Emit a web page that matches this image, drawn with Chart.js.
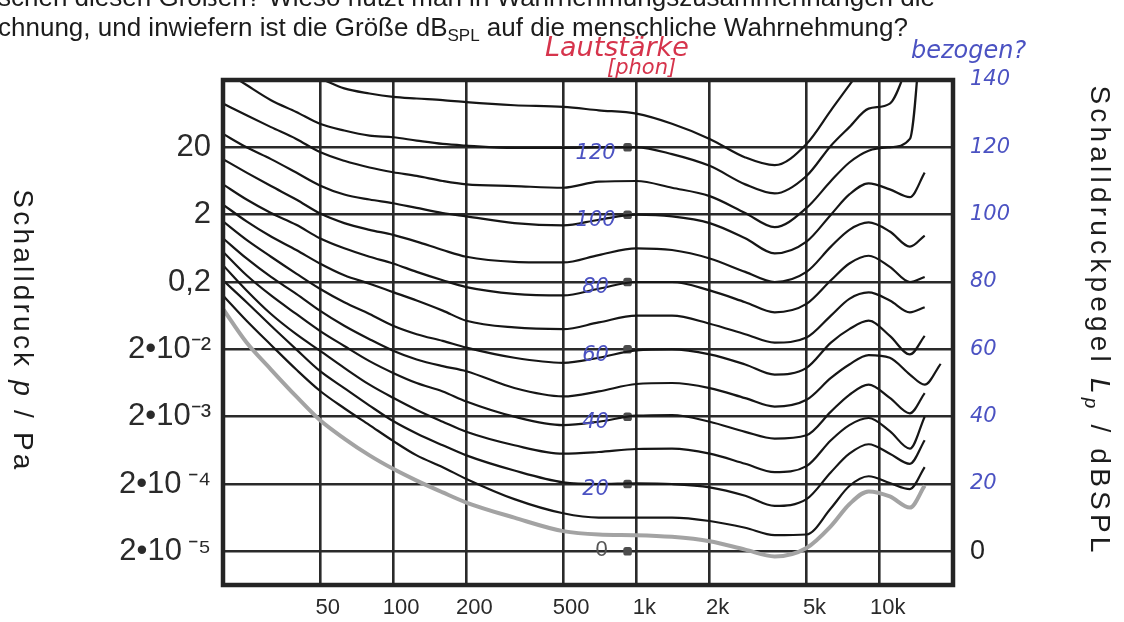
<!DOCTYPE html>
<html>
<head>
<meta charset="utf-8">
<script src="https://cdn.jsdelivr.net/npm/chart.js@4.4.1/dist/chart.umd.min.js"></script>
<style>
  html, body { margin: 0; padding: 0; background: #fff; overflow: hidden; }
  #wrap { width: 1124px; height: 622px; }
</style>
</head>
<body>
<div id="wrap"><canvas id="kurven" width="1124" height="622"></canvas></div>
<script>
// Frequenzen (Hz)
var frequenzen = [20, 25, 31.5, 40, 50, 63, 80, 100, 125, 160, 200, 315, 500, 700, 1000, 1400, 2000, 2800, 3700, 5000, 6300, 7500, 9000, 11000, 13300, 15300, 17800];

// Hoerschwelle und Kurven gleicher Lautstaerke, Pegel in dB SPL
var hoerschwelle = [72, 62, 54, 46, 39, 33.5, 28.5, 24.5, 21, 17.5, 14.5, 10, 6, 5, 4.8, 4.3, 3, 0.5, -1.5, 1, 7.5, 14, 17.8, 16.3, 13, 19.5, null];
var phon10  = [76, 68.5, 61.3, 54, 47.7, 42.5, 37.5, 32.8, 28.5, 25, 21.5, 15.5, 11.3, 10, 10, 10, 9, 7, 4.8, 5, 12.8, 19.4, 22.3, 20.3, 18.5, 25, null];
var phon20  = [80.5, 74, 67, 60, 53.6, 48.5, 43.3, 38.7, 35, 31.5, 28.5, 24, 20.5, 20, 20.2, 20, 19, 16.5, 13.5, 15.5, 23.5, 29, 31.8, 29, 26, 33, null];
var phon30  = [85, 77.5, 70.5, 64.5, 59.6, 54.5, 49.5, 45.6, 42, 38.5, 35.5, 31.5, 29, 29.5, 30.4, 30.5, 29, 26, 23.5, 25.3, 33, 37.5, 39.6, 35.7, 30.5, 40, null];
var phon40  = [89, 82, 76, 70.5, 65.5, 61, 56.5, 53, 50, 47.5, 44.5, 40, 37.5, 38.5, 40.3, 40.5, 38.5, 35.5, 33.5, 34.5, 41.5, 46.5, 49.5, 45.6, 41, 47, null];
var phon50  = [93, 87, 81.5, 76.5, 71.5, 67, 63, 59.6, 57, 55, 53.5, 48.5, 46, 47.5, 49.7, 50, 48.5, 45.5, 43, 45, 51.5, 55.5, 58.3, 57.5, 52.5, 49.5, 55.7];
var phon60  = [98, 92.5, 87.5, 82.5, 78, 74, 70.5, 67, 64.5, 62.5, 60.5, 57.5, 56, 57.5, 59.7, 60, 58.5, 55.5, 52.5, 54.5, 62, 66, 68.5, 64, 58.5, 64, null];
var phon70  = [103, 98, 93.5, 89.5, 85.5, 82, 79.5, 77, 74.5, 71.5, 68.5, 66.5, 66, 68, 70, 70, 67.6, 64.5, 62, 63.5, 70, 75, 76.9, 74.5, 71, 72.5, null];
var phon80  = [109, 104.5, 100.5, 97, 93, 90, 87.5, 85.5, 83, 80.5, 78.5, 76.5, 76, 78, 80, 80, 77.5, 74, 71, 73.5, 80.5, 85.5, 87.8, 84.5, 80, 81.5, null];
var phon90  = [116.5, 112.5, 108.5, 104.5, 100.4, 97.5, 95.5, 94, 92, 89.5, 87.5, 86, 85.8, 88, 90, 89.5, 87, 83, 80, 83, 90.5, 95.5, 97.7, 95, 90.5, 93.8, null];
var phon100 = [124, 120, 116.5, 112.5, 108.7, 106, 104.5, 103.4, 102, 100.5, 99.5, 97.5, 96.8, 98.5, 100, 99.5, 97.5, 93, 88.5, 92, 100, 106, 109.3, 107.5, 105.2, 112.5, null];
var phon110 = [133, 129.5, 126, 122.5, 118.6, 116, 114, 112.6, 111.5, 110, 109, 108.5, 108, 109.8, 110, 108, 105.5, 100.5, 96.3, 102, 110, 115.5, 119, 120, 122.5, 170, null];
var phon120 = [143, 138.5, 134, 130.5, 127, 125, 123.5, 123, 122, 121, 120.5, 119.8, 119.8, 120, 120, 118, 114.5, 109, 106.3, 111.5, 120.5, 126, 131.5, 133, 146, null, null];
var phon130 = [null, null, null, 143, 140.5, 137.5, 136, 135, 134.5, 134, 133.4, 132.5, 132, 131, 130, 127, 122.5, 117, 114.7, 121, 131, 138.5, 146, null, null, null, null];

// Punkte bei 1 kHz (Phon-Markierungen) mit handschriftlicher Beschriftung
var markerFrequenz = 920;
var markerPegel = [0, 20, 40, 60, 80, 100, 120];
var markerText = ['0', '20', '40', '60', '80', '100', '120'];

// Achsenbeschriftungen
var xTicks = [50, 100, 200, 500, 1000, 2000, 5000, 10000];
var xTickText = ['50', '100', '200', '500', '1k', '2k', '5k', '10k'];
var paTicks = [0, 20, 40, 60, 80, 100, 120];
var paText = ['2•10\u2009⁻⁵', '2•10\u2009⁻⁴', '2•10⁻³', '2•10⁻²', '0,2', '2', '20'];
var splTicks = [0, 20, 40, 60, 80, 100, 120, 140];

var frageZeile1 = 'schen diesen Größen? Wieso nutzt man in Wahrnehmungszusammenhängen die';
var frageZeile2a = 'chnung, und inwiefern ist die Größe dB';
var frageZeile2b = ' auf die menschliche Wahrnehmung?';

var SCHRIFT = "'Liberation Sans', Arial, sans-serif";
var HAND = "'DejaVu Sans', sans-serif";

function punkte(werte) {
  return frequenzen.map(function (f, i) { return { x: f, y: werte[i] }; });
}

var kurven = [phon10, phon20, phon30, phon40, phon50, phon60, phon70, phon80, phon90, phon100, phon110, phon120, phon130];
var datasets = [{
  label: 'Hörschwelle',
  data: punkte(hoerschwelle),
  borderColor: '#a3a3a3',
  borderWidth: 4,
  pointRadius: 0,
  cubicInterpolationMode: 'monotone',
  clip: -1
}];
kurven.forEach(function (werte, i) {
  datasets.push({
    label: ((i + 1) * 10) + ' phon',
    data: punkte(werte),
    borderColor: '#161616',
    borderWidth: 2.2,
    pointRadius: 0,
    cubicInterpolationMode: 'monotone',
    clip: -1
  });
});
var markerIndex = datasets.length;
datasets.push({
  label: 'Markierung',
  type: 'scatter',
  data: markerPegel.map(function (v) { return { x: markerFrequenz, y: v }; }),
  showLine: false,
  pointStyle: 'rectRounded',
  pointRadius: 5,
  backgroundColor: '#4c4c4c',
  borderWidth: 0
});

function zeichneTeile(ctx, teile, x, y) {
  teile.forEach(function (t) {
    ctx.font = t.f;
    ctx.fillText(t.t, x, y + (t.dy || 0));
    x += ctx.measureText(t.t).width;
  });
}
function breite(ctx, teile) {
  var w = 0;
  teile.forEach(function (t) { ctx.font = t.f; w += ctx.measureText(t.t).width; });
  return w;
}
function titelSenkrecht(ctx, teile, cx, cy) {
  ctx.save();
  ctx.translate(cx, cy);
  ctx.rotate(Math.PI / 2);
  var w = breite(ctx, teile);
  zeichneTeile(ctx, teile, -w / 2, 0);
  ctx.restore();
}

var beschriftung = {
  id: 'beschriftung',
  afterDatasetsDraw: function (chart) {
    var ctx = chart.ctx, a = chart.chartArea;
    ctx.save();
    ctx.strokeStyle = '#242424';
    ctx.lineWidth = 4.5;
    ctx.strokeRect(a.left, a.top, a.right - a.left, a.bottom - a.top);
    ctx.restore();
  },
  afterDraw: function (chart) {
    var ctx = chart.ctx;
    ctx.save();
    ctx.textAlign = 'left';
    ctx.textBaseline = 'alphabetic';
    ctx.fillStyle = '#1c1c1c';

    // abgeschnittener Aufgabentext oben
    zeichneTeile(ctx, [{ t: frageZeile1, f: '26px ' + SCHRIFT }], -2, 6);
    zeichneTeile(ctx, [
      { t: frageZeile2a, f: '26px ' + SCHRIFT },
      { t: 'SPL', f: '17px ' + SCHRIFT, dy: 5 },
      { t: frageZeile2b, f: '26px ' + SCHRIFT }
    ], -2, 36);

    // Achsentitel
    ctx.letterSpacing = '3.2px';
    titelSenkrecht(ctx, [
      { t: 'Schalldruck ', f: '28px ' + SCHRIFT },
      { t: 'p', f: 'italic 28px ' + SCHRIFT },
      { t: ' / Pa', f: '28px ' + SCHRIFT }
    ], 14, 331);
    ctx.letterSpacing = '4.2px';
    titelSenkrecht(ctx, [
      { t: 'Schalldruckpegel ', f: '28px ' + SCHRIFT },
      { t: 'L', f: 'italic 28px ' + SCHRIFT },
      { t: 'p', f: 'italic 19px ' + SCHRIFT, dy: 6 },
      { t: ' / dBSPL', f: '28px ' + SCHRIFT }
    ], 1091, 321);
    ctx.letterSpacing = '0px';

    // handschriftliche Notizen
    ctx.fillStyle = '#d6344c';
    ctx.font = 'italic 27px ' + HAND;
    ctx.fillText('Lautstärke', 545, 56);
    ctx.font = 'italic 21px ' + HAND;
    ctx.fillText('[phon]', 607, 74);
    ctx.fillStyle = '#4b52c2';
    ctx.font = 'italic 24px ' + HAND;
    ctx.fillText('bezogen?', 911, 58);

    // Beschriftung der Markierungen bei 1 kHz
    ctx.textAlign = 'center';
    ctx.textBaseline = 'middle';
    chart.getDatasetMeta(markerIndex).data.forEach(function (p, i) {
      if (markerPegel[i] === 0) {
        ctx.fillStyle = '#555';
        ctx.font = '22px ' + SCHRIFT;
        ctx.fillText(markerText[i], p.x - 26, p.y - 1);
      } else {
        ctx.fillStyle = '#4b52c2';
        ctx.font = 'italic 21px ' + HAND;
        ctx.fillText(markerText[i], p.x - 32, p.y + 6);
      }
    });
    ctx.restore();
  }
};

var gitter = { color: '#2a2a2a', lineWidth: 2.6, drawTicks: false };

new Chart(document.getElementById('kurven'), {
  type: 'line',
  data: { datasets: datasets },
  options: {
    responsive: false,
    animation: false,
    devicePixelRatio: 1,
    layout: { padding: { top: 80, left: 0, right: 0, bottom: 0 } },
    plugins: {
      legend: { display: false },
      tooltip: { enabled: false },
      title: { display: false }
    },
    scales: {
      x: {
        type: 'logarithmic',
        position: 'bottom',
        min: 20,
        max: 20000,
        afterBuildTicks: function (s) { s.ticks = xTicks.map(function (v) { return { value: v }; }); },
        afterFit: function (s) { s.height = 37; },
        grid: gitter,
        border: { display: false },
        ticks: {
          autoSkip: false,
          maxRotation: 0,
          padding: 10,
          labelOffset: 8,
          color: '#2a2a2a',
          font: { family: SCHRIFT, size: 22 },
          callback: function (v, i) { return xTickText[i]; }
        }
      },
      y: {
        type: 'linear',
        position: 'left',
        min: -10,
        max: 140,
        afterBuildTicks: function (s) { s.ticks = paTicks.map(function (v) { return { value: v }; }); },
        afterFit: function (s) { s.width = 223; },
        grid: gitter,
        border: { display: false },
        ticks: {
          padding: 12,
          color: '#2a2a2a',
          font: { family: SCHRIFT, size: 31 },
          callback: function (v, i) { return paText[i]; }
        }
      },
      y2: {
        type: 'linear',
        position: 'right',
        min: -10,
        max: 140,
        afterBuildTicks: function (s) { s.ticks = splTicks.map(function (v) { return { value: v }; }); },
        afterFit: function (s) { s.width = 171; },
        grid: { display: false, drawTicks: false },
        border: { display: false },
        ticks: {
          padding: 17,
          color: function (c) { return c.tick && c.tick.value === 0 ? '#222' : '#4b52c2'; },
          font: function (c) {
            return c.tick && c.tick.value === 0
              ? { family: SCHRIFT, size: 27 }
              : { family: HAND, style: 'italic', size: 21 };
          },
          callback: function (v) { return String(v); }
        }
      }
    }
  },
  plugins: [beschriftung]
});
</script>
</body>
</html>
